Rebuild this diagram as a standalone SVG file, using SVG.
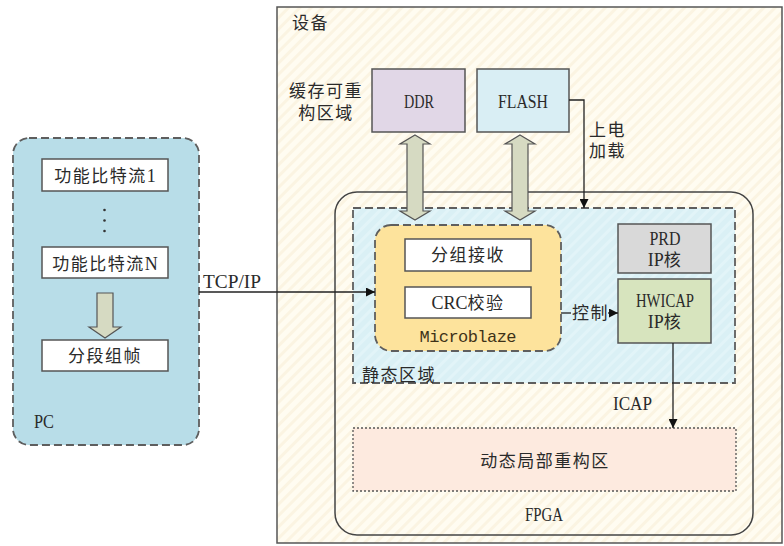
<svg xmlns="http://www.w3.org/2000/svg" width="784" height="546" viewBox="0 0 784 546">
  <style>
    .t { font-family: "Liberation Serif", "Noto Sans CJK SC", serif; font-size: 17px; fill: #2a2a2a; letter-spacing: 1.5px; }
    .c { text-anchor: middle; }
    .lat { font-family: "Liberation Serif", serif; font-size: 18px; letter-spacing: 0; fill: #2a2a2a; }
    .mono { font-family: "Liberation Mono", monospace; font-size: 17px; fill: #3e3218; letter-spacing: 0; }
    .box { stroke: #555; stroke-width: 1.5; }
    .white { fill: #ffffff; stroke: #555; stroke-width: 1.5; }
    .dash { stroke: #5e5e5e; stroke-width: 1.8; stroke-dasharray: 8 4; }
    .wire { fill: none; stroke: #222; stroke-width: 1.3; }
    .fat { fill: #d6dac2; stroke: #555; stroke-width: 1.2; }
  </style>
  <defs>
    <pattern id="hatch" width="8" height="8" patternUnits="userSpaceOnUse" patternTransform="rotate(45)">
      <rect width="8" height="8" fill="#fffcf1"/>
      <rect width="3" height="8" fill="#fbf4e2"/>
    </pattern>
    <pattern id="hatchCyan" width="8" height="8" patternUnits="userSpaceOnUse" patternTransform="rotate(45)">
      <rect width="8" height="8" fill="#daf0f5"/>
      <rect width="3" height="8" fill="#e2f4f8"/>
    </pattern>
    <marker id="arr" markerWidth="9" markerHeight="9" refX="9" refY="4.5" orient="auto" markerUnits="userSpaceOnUse">
      <path d="M0,0 L9,4.5 L0,9 z" fill="#111"/>
    </marker>
  </defs>

  <rect width="784" height="546" fill="#ffffff"/>

  <!-- PC side -->
  <g id="pc">
    <rect x="13" y="138" width="186" height="307" rx="16" fill="#b8dde8" class="dash"/>
    <text class="lat" x="34" y="428" textLength="20" lengthAdjust="spacingAndGlyphs">PC</text>
  </g>
  <g id="stream1">
    <rect x="42" y="159" width="126" height="32" class="white"/>
    <text class="t c" x="105" y="182">功能比特流<tspan class="lat">1</tspan></text>
  </g>
  <g id="dots" fill="#333">
    <circle cx="104.5" cy="210" r="1.3"/>
    <circle cx="104.5" cy="220.5" r="1.3"/>
    <circle cx="104.5" cy="231" r="1.3"/>
  </g>
  <g id="streamN">
    <rect x="42" y="247" width="126" height="31" class="white"/>
    <text class="t c" x="105" y="270">功能比特流<tspan class="lat">N</tspan></text>
  </g>
  <g id="framing">
    <rect x="42" y="340" width="126" height="31" class="white"/>
    <text class="t c" x="105" y="362">分段组帧</text>
  </g>

  <!-- device enclosure -->
  <g id="device">
    <rect x="277" y="7" width="505" height="536" fill="url(#hatch)" class="box"/>
    <text class="t" x="292" y="29">设备</text>
    <text class="t c" x="326" y="97">缓存可重</text>
    <text class="t c" x="326" y="119">构区域</text>
  </g>
  <g id="ddr">
    <rect x="372" y="69" width="93" height="63" fill="#e1d7e7" class="box"/>
    <text class="lat c" x="419" y="108" textLength="30" lengthAdjust="spacingAndGlyphs">DDR</text>
  </g>
  <g id="flash">
    <rect x="477" y="69" width="92" height="63" fill="#d9eef4" class="box"/>
    <text class="lat c" x="523" y="108" textLength="50" lengthAdjust="spacingAndGlyphs">FLASH</text>
  </g>

  <g id="fpga">
    <rect x="335" y="192" width="418" height="343" rx="22" fill="none" stroke="#444" stroke-width="1.5"/>
    <text class="lat c" x="544" y="521" textLength="38" lengthAdjust="spacingAndGlyphs">FPGA</text>
  </g>
  <g id="static">
    <rect x="353" y="208" width="382" height="175" fill="url(#hatchCyan)" class="dash"/>
    <text class="t" x="362" y="381">静态区域</text>
  </g>
  <g id="microblaze">
    <rect x="375" y="225" width="186" height="126" rx="16" fill="#fde39c" class="dash"/>
    <text class="mono c" x="468" y="342" textLength="97">Microblaze</text>
  </g>
  <g id="rx">
    <rect x="405" y="239" width="126" height="32" class="white"/>
    <text class="t c" x="468" y="261">分组接收</text>
  </g>
  <g id="crc">
    <rect x="405" y="287" width="126" height="31" class="white"/>
    <text class="t c" x="468" y="309"><tspan class="lat">CRC</tspan>校验</text>
  </g>
  <g id="prd">
    <rect x="618" y="224" width="93" height="49" fill="#d9d9d9" class="box"/>
    <text class="lat c" x="665" y="245" textLength="31" lengthAdjust="spacingAndGlyphs">PRD</text>
    <text class="t c" x="665" y="266"><tspan class="lat">IP</tspan>核</text>
  </g>
  <g id="hwicap">
    <rect x="618" y="279" width="93" height="64" fill="#d7e4be" class="box"/>
    <text class="lat c" x="665" y="307" textLength="58" lengthAdjust="spacingAndGlyphs">HWICAP</text>
    <text class="t c" x="665" y="328"><tspan class="lat">IP</tspan>核</text>
  </g>
  <g id="dynamic">
    <rect x="353" y="428" width="383" height="63" fill="#fdeadf" stroke="#555" stroke-width="1.3" stroke-dasharray="2 2"/>
    <text class="t c" x="545" y="467">动态局部重构区</text>
  </g>

  <!-- connectors -->
  <g id="connectors">
    <polygon class="fat" points="105,338 89,327 97,327 97,293 113,293 113,327 121,327"/>
    <polygon class="fat" points="415,135 430,144 423,144 423,211 430,211 415,220 400,211 407,211 407,144 400,144"/>
    <polygon class="fat" points="520,135 535,144 528,144 528,211 535,211 520,220 505,211 512,211 512,144 505,144"/>
    <path class="wire" d="M199,292 H375" marker-end="url(#arr)"/>
    <text class="lat" x="203" y="288" textLength="58" lengthAdjust="spacingAndGlyphs">TCP/IP</text>
    <path class="wire" d="M569,100 H584 V208" marker-end="url(#arr)"/>
    <text class="t" x="589" y="136">上电</text>
    <text class="t" x="589" y="157">加载</text>
    <path class="wire" d="M561,313 H571"/>
    <path class="wire" d="M608,313 H618" marker-end="url(#arr)"/>
    <text class="t" x="572" y="319">控制</text>
    <path class="wire" d="M673,343 V428" marker-end="url(#arr)"/>
    <text class="lat" x="613" y="410" textLength="39" lengthAdjust="spacingAndGlyphs">ICAP</text>
  </g>
</svg>
